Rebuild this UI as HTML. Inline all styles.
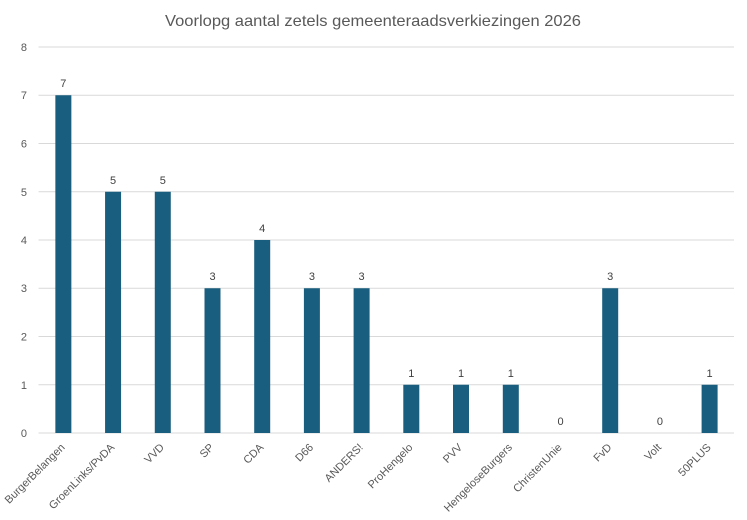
<!DOCTYPE html>
<html><head><meta charset="utf-8"><style>
html,body{margin:0;padding:0;background:#fff;}
svg{display:block;font-family:"Liberation Sans",Arial,sans-serif;}
</style></head><body>
<svg width="747" height="520" viewBox="0 0 747 520" xmlns="http://www.w3.org/2000/svg">
<rect width="747" height="520" fill="#fff"/>
<text x="373" y="26" text-anchor="middle" font-size="16" fill="#595959" textLength="416" lengthAdjust="spacingAndGlyphs">Voorlopg aantal zetels gemeenteraadsverkiezingen 2026</text>
<g stroke="#d9d9d9" stroke-width="1">
<line x1="38.5" x2="734" y1="47" y2="47"/>
<line x1="38.5" x2="734" y1="95.25" y2="95.25"/>
<line x1="38.5" x2="734" y1="143.5" y2="143.5"/>
<line x1="38.5" x2="734" y1="191.75" y2="191.75"/>
<line x1="38.5" x2="734" y1="240" y2="240"/>
<line x1="38.5" x2="734" y1="288.25" y2="288.25"/>
<line x1="38.5" x2="734" y1="336.5" y2="336.5"/>
<line x1="38.5" x2="734" y1="384.75" y2="384.75"/>
<line x1="38.5" x2="734" y1="433" y2="433"/>
</g>
<g font-size="11" fill="#595959" text-anchor="end">
<text x="27" y="51">8</text>
<text x="27" y="99">7</text>
<text x="27" y="147.5">6</text>
<text x="27" y="196">5</text>
<text x="27" y="244">4</text>
<text x="27" y="292">3</text>
<text x="27" y="340.5">2</text>
<text x="27" y="389">1</text>
<text x="27" y="437">0</text>
</g>
<g fill="#195e7e">
<rect x="55.36" y="95.25" width="16" height="337.75"/>
<rect x="105.07" y="191.75" width="16" height="241.25"/>
<rect x="154.78" y="191.75" width="16" height="241.25"/>
<rect x="204.5" y="288.25" width="16" height="144.75"/>
<rect x="254.2" y="240" width="16" height="193"/>
<rect x="303.9" y="288.25" width="16" height="144.75"/>
<rect x="353.6" y="288.25" width="16" height="144.75"/>
<rect x="403.3" y="384.75" width="16" height="48.25"/>
<rect x="453" y="384.75" width="16" height="48.25"/>
<rect x="502.8" y="384.75" width="16" height="48.25"/>
<rect x="602.2" y="288.25" width="16" height="144.75"/>
<rect x="701.6" y="384.75" width="16" height="48.25"/>
</g>
<g font-size="11" fill="#404040" text-anchor="middle">
<text x="63.36" y="87">7</text>
<text x="113.07" y="184">5</text>
<text x="162.78" y="184">5</text>
<text x="212.5" y="280">3</text>
<text x="262.2" y="232">4</text>
<text x="311.9" y="280">3</text>
<text x="361.6" y="280">3</text>
<text x="411.3" y="377">1</text>
<text x="461" y="377">1</text>
<text x="510.8" y="377">1</text>
<text x="560.5" y="425">0</text>
<text x="610.2" y="280">3</text>
<text x="659.9" y="425">0</text>
<text x="709.6" y="377">1</text>
</g>
<g font-size="11" fill="#595959" text-anchor="end">
<text transform="translate(65.4,448) rotate(-45)">BurgerBelangen</text>
<text transform="translate(115.1,448) rotate(-45)">GroenLinks/PvDA</text>
<text transform="translate(164.8,448) rotate(-45)">VVD</text>
<text transform="translate(214.5,448) rotate(-45)">SP</text>
<text transform="translate(264.2,448) rotate(-45)">CDA</text>
<text transform="translate(313.9,448) rotate(-45)">D66</text>
<text transform="translate(363.6,448) rotate(-45)">ANDERS!</text>
<text transform="translate(413.3,448) rotate(-45)">ProHengelo</text>
<text transform="translate(463,448) rotate(-45)">PVV</text>
<text transform="translate(512.8,448) rotate(-45)">HengeloseBurgers</text>
<text transform="translate(562.5,448) rotate(-45)">ChristenUnie</text>
<text transform="translate(612.2,448) rotate(-45)">FvD</text>
<text transform="translate(661.9,448) rotate(-45)">Volt</text>
<text transform="translate(711.6,448) rotate(-45)">50PLUS</text>
</g>
</svg>
</body></html>
